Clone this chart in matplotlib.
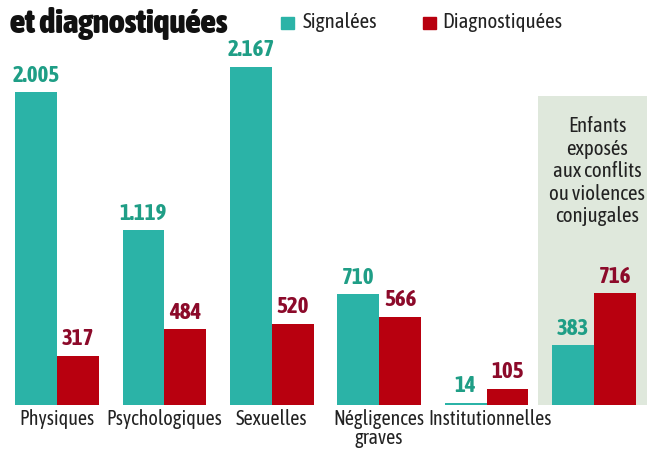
import matplotlib.pyplot as plt
import numpy as np

categories = ["Physiques", "Psychologiques", "Sexuelles", "Négligences\ngraves", "Institutionnelles", ""]
signalees = [2005, 1119, 2167, 710, 14, 383]
diagnostiquees = [317, 484, 520, 566, 105, 716]
labels_sig = ["2.005", "1.119", "2.167", "710", "14", "383"]
labels_diag = ["317", "484", "520", "566", "105", "716"]

teal = "#2bb3a7"
red = "#b8000f"
teal_txt = "#1f9e86"
red_txt = "#8c0a2a"
plt.rcParams['font.family'] = ["Asap Condensed", "DejaVu Sans"]

fig = plt.figure(figsize=(6.47, 4.55), dpi=100)
ax = fig.add_axes([0, 50 / 455, 1, 405 / 455])

x = np.arange(len(categories))
w = 0.39
ax.set_xlim(-0.531, 5.494)
ax.set_ylim(0, 2596)

# green panel behind the last group
ax.axvspan(4.478, 5.494, ymin=0, ymax=1981 / 2596, color="#dfe8dc", zorder=0, lw=0)

ax.bar(x - w / 2, signalees, w, color=teal, zorder=2)
ax.bar(x + w / 2, diagnostiquees, w, color=red, zorder=2)

for i in range(len(x)):
    ax.text(x[i] - w / 2, signalees[i] + 35, labels_sig[i], ha="center", va="bottom",
            color=teal_txt, fontsize=16.5, fontweight="bold")
    ax.text(x[i] + w / 2, diagnostiquees[i] + 35, labels_diag[i], ha="center", va="bottom",
            color=red_txt, fontsize=16.5, fontweight="bold")
    ax.text(x[i] + (0.03 if i == 4 else 0), -25, categories[i], ha="center", va="top",
            fontsize=14.5, color="#222222", linespacing=0.95)

ax.text(5.03, 1850, "Enfants\nexposés\naux conflits\nou violences\nconjugales",
        ha="center", va="top", fontsize=15, color="#222222", linespacing=1.15)

ax.axis("off")

fig.text(10 / 647, 1 - 33 / 455, "et diagnostiquées", fontsize=24, fontweight=900,
         va="baseline", ha="left", color="#111111")
fig.patches.append(plt.Rectangle((281 / 647, 1 - 29 / 455), 13 / 647, 12 / 455,
                                 transform=fig.transFigure, color=teal))
fig.text(303 / 647, 1 - 28 / 455, "Signalées", fontsize=15, va="baseline", color="#222222")
fig.patches.append(plt.Rectangle((423 / 647, 1 - 29 / 455), 13 / 647, 12 / 455,
                                 transform=fig.transFigure, color=red))
fig.text(442 / 647, 1 - 28 / 455, "Diagnostiquées", fontsize=15, va="baseline", color="#222222")

fig.savefig("out.png", dpi=100)
